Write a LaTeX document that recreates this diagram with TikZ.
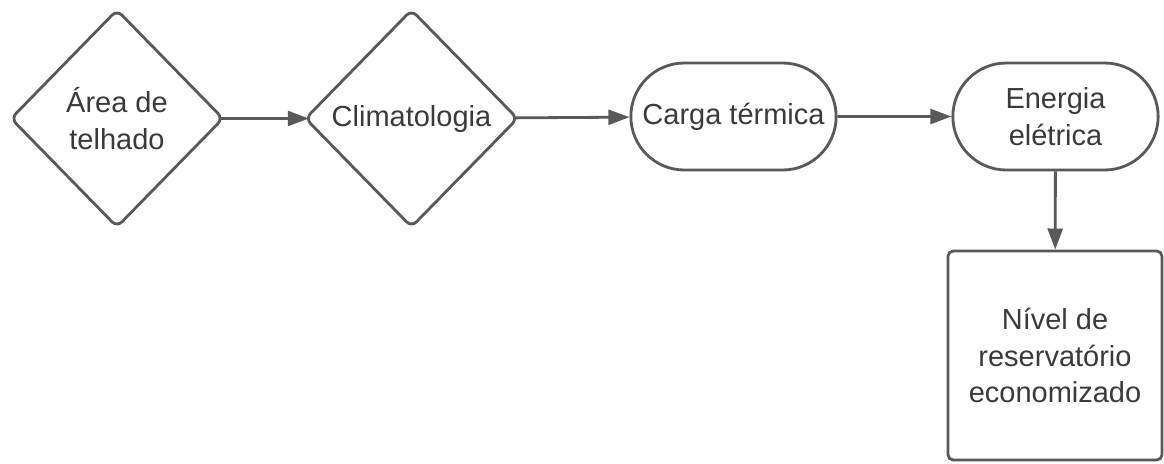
\documentclass[tikz,border=0pt]{standalone}
\usepackage{fontspec}
\setmainfont{Liberation Sans}
\usetikzlibrary{shapes.geometric, shapes.misc, arrows.meta}
\definecolor{linegray}{HTML}{595959}
\definecolor{textgray}{HTML}{3A3A3A}
\begin{document}
\begin{tikzpicture}[
    every node/.style = {draw = linegray, line width = 1.6pt, text = textgray,
                         align = center, font = \fontsize{16.5}{21}\selectfont},
    decision/.style = {diamond, rounded corners = 4pt, inner sep = 0pt,
                       minimum width = 4.26cm, minimum height = 4.36cm},
    terminal/.style = {rounded rectangle, minimum width = 4.34cm, minimum height = 2.14cm},
    result/.style = {rectangle, rounded corners = 3pt, minimum width = 4.28cm, minimum height = 4.18cm},
    flow/.style = {draw = linegray, line width = 1.6pt, -{Triangle[length = 12pt, width = 8.5pt]}}]
\useasboundingbox (0,0) rectangle (23.28,-9.26);
\node[decision] (area)    at (2.34,-2.37)  {Área de\\telhado};
\node[decision] (clima)   at (8.23,-2.37)  {Climatologia};
\node[terminal] (carga)   at (14.67,-2.33) {Carga térmica};
\node[terminal] (energia) at (21.11,-2.33) {Energia\\elétrica};
\node[result]   (nivel)   at (21.10,-7.11) {Nível de\\reservatório\\economizado};
% the rounded tips of the diamonds sit a little inside their anchors
\draw[flow, shorten <= -3pt, shorten >= -3pt] (area) -- (clima);
\draw[flow, shorten <= -3pt] (clima) -- (carga);
\draw[flow] (carga) -- (energia);
\draw[flow] (energia) -- (nivel);
\end{tikzpicture}
\end{document}
